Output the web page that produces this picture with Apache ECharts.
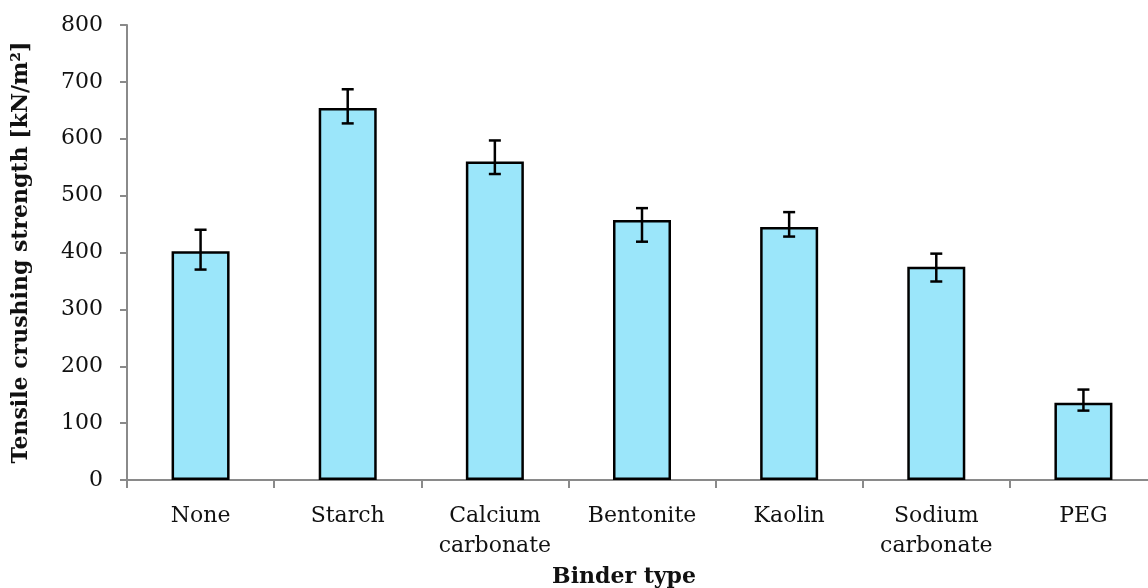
<!DOCTYPE html>
<html>
<head>
<meta charset="utf-8">
<script src="https://cdn.jsdelivr.net/npm/echarts@6/dist/echarts.min.js"></script>
<style>
html,body{margin:0;padding:0;background:#fff;}
#chart{width:1148px;height:588px;}
</style>
</head>
<body>
<div id="chart"></div>
<script>
const categories = ['None', 'Starch', 'Calcium\ncarbonate', 'Bentonite', 'Kaolin', 'Sodium\ncarbonate', 'PEG'];
const values = [402, 654, 560, 457, 445, 375, 136];
const errLow = [370, 627, 538, 419, 428, 349, 122];
const errHigh = [440, 687, 597, 478, 471, 398, 159];
const yMin = 0, yMax = 800, yStep = 100;
const xTitle = 'Binder type';
const yTitle = 'Tensile crushing strength [kN/m\u00B2]';

const FONT = '"DejaVu Serif", serif';
const errData = categories.map((c, i) => [i, errLow[i], errHigh[i]]);

const chart = echarts.init(document.getElementById('chart'), null, {renderer: 'canvas'});
chart.setOption({
  animation: false,
  backgroundColor: '#ffffff',
  grid: {left: 127, top: 25, bottom: 108, right: -9, containLabel: false, outerBoundsMode: 'none'},
  xAxis: {
    type: 'category',
    data: categories,
    boundaryGap: true,
    name: xTitle,
    nameLocation: 'middle',
    nameGap: 82,
    nameTextStyle: {fontFamily: FONT, fontWeight: 'bold', fontSize: 22, color: '#111', padding: [0, 36, 0, 0]},
    axisLine: {lineStyle: {color: '#8a8a8a', width: 2}},
    axisTick: {show: true, length: 8, alignWithLabel: false, lineStyle: {color: '#8a8a8a', width: 2}},
    axisLabel: {fontFamily: FONT, fontSize: 22, color: '#111', margin: 21, lineHeight: 30, interval: 0}
  },
  yAxis: {
    type: 'value',
    min: yMin, max: yMax, interval: yStep,
    name: yTitle,
    nameLocation: 'middle',
    nameGap: 95,
    nameRotate: 90,
    nameTextStyle: {fontFamily: FONT, fontWeight: 'bold', fontSize: 22, color: '#111'},
    axisLine: {show: true, lineStyle: {color: '#8a8a8a', width: 2}},
    axisTick: {show: true, length: 7, lineStyle: {color: '#8a8a8a', width: 2}},
    splitLine: {show: false},
    axisLabel: {fontFamily: FONT, fontSize: 22, color: '#111', margin: 24}
  },
  series: [
    {
      type: 'bar',
      data: values,
      barWidth: 58,
      itemStyle: {color: '#9be6fa', borderColor: '#000', borderWidth: 2.5},
      z: 2
    },
    {
      type: 'custom',
      data: errData,
      encode: {x: 0, y: [1, 2]},
      z: 5,
      renderItem: function (params, api) {
        const x = api.value(0);
        const lo = api.coord([x, api.value(1)]);
        const hi = api.coord([x, api.value(2)]);
        const hw = 6;
        const st = {stroke: '#000', lineWidth: 2.5};
        return {
          type: 'group',
          children: [
            {type: 'line', shape: {x1: lo[0], y1: lo[1], x2: hi[0], y2: hi[1]}, style: st},
            {type: 'line', shape: {x1: hi[0] - hw, y1: hi[1], x2: hi[0] + hw, y2: hi[1]}, style: st},
            {type: 'line', shape: {x1: lo[0] - hw, y1: lo[1], x2: lo[0] + hw, y2: lo[1]}, style: st}
          ]
        };
      }
    }
  ]
});
</script>
</body>
</html>
